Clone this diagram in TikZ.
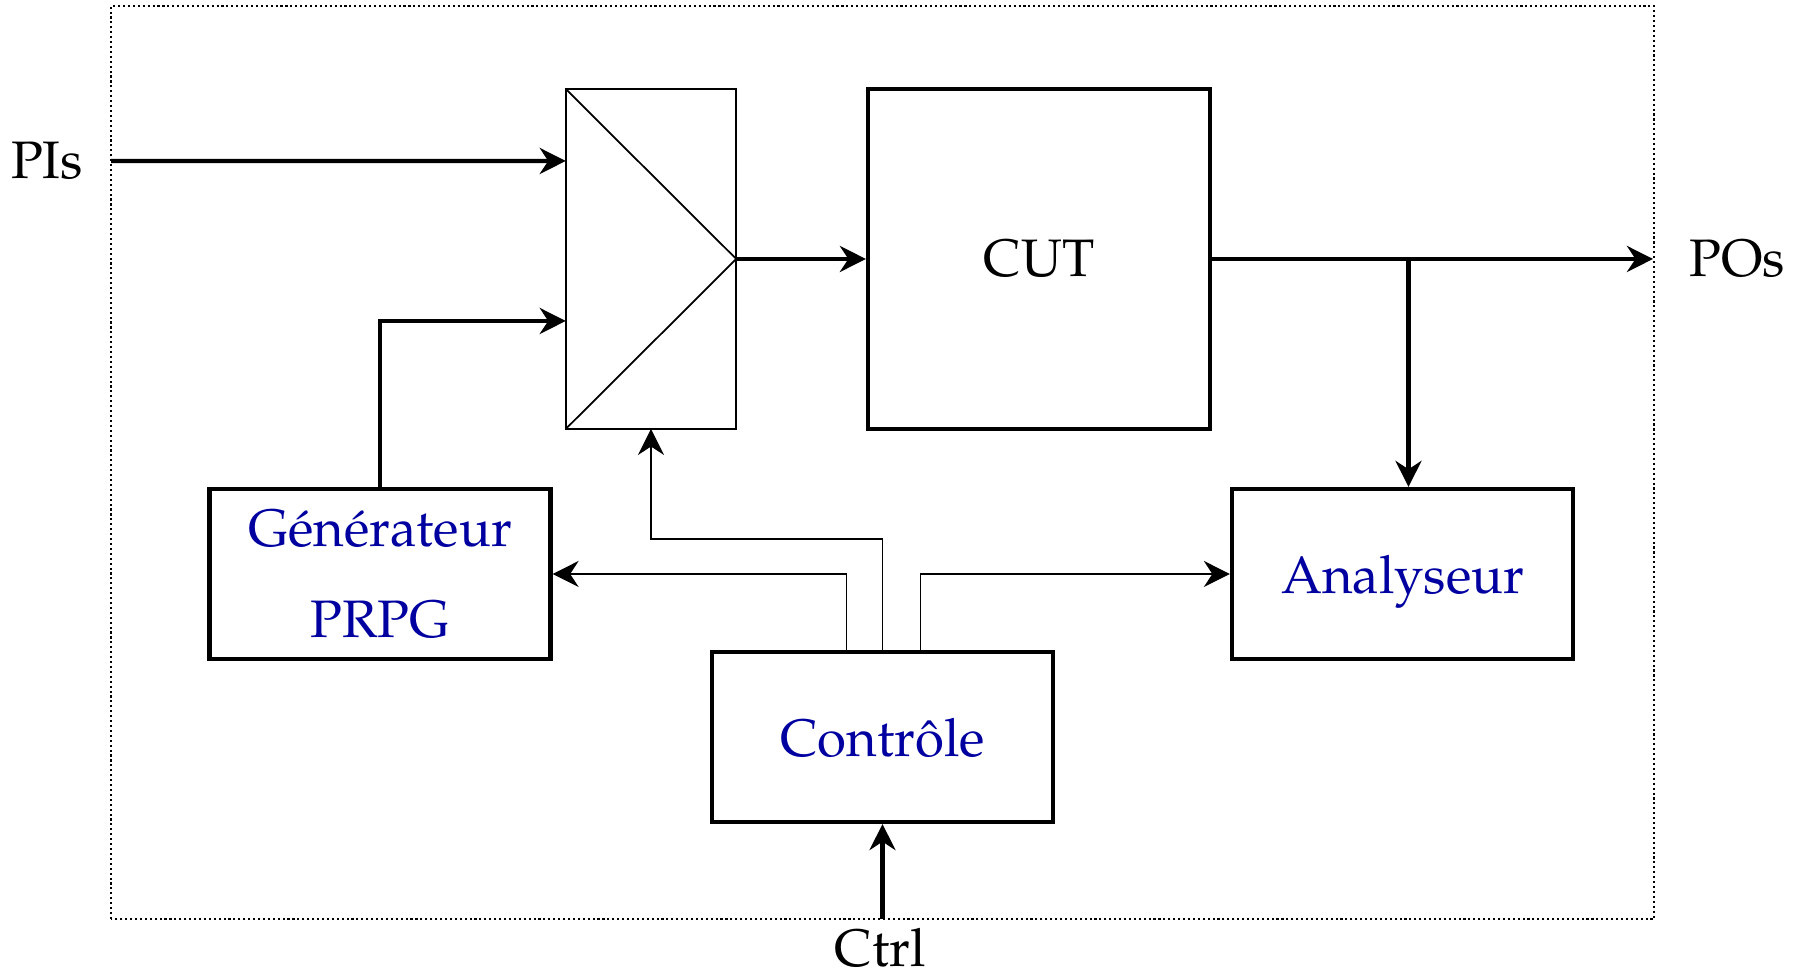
\documentclass[tikz,border=0pt]{standalone}
\usepackage[T1]{fontenc}
\usepackage{mathpazo}
\usepackage{tikz}
\usetikzlibrary{arrows.meta}
\definecolor{blocktext}{RGB}{0,0,160}
\tikzset{
    busarrow/.style={-{Stealth[length=2.6mm,width=2.6mm]}, line width=1.2pt},
    ctlarrow/.style={-{Stealth[length=2.6mm,width=2.6mm]}, line width=0.5pt},
    blockbox/.style={draw, line width=1.2pt, minimum width=3.41cm, minimum height=1.70cm, text=blocktext, text depth=0pt, align=center}
}

\begin{document}
\begin{tikzpicture}[font=\fontsize{15}{18}\selectfont]
    \useasboundingbox (0,0) rectangle (18,9.77);
    \draw[dash pattern=on 0.6pt off 0.8pt, line width=0.5pt] (1.11,0.58) rectangle (16.54,9.71);

    \node (pis) at (0.47,8.16) {PIs};
    \node (pos) at (17.37,7.18) {POs};
    \node (ctrl) at (8.80,0.29) {Ctrl};

    \node[draw, line width=0.5pt, outer sep=0pt, minimum width=1.705cm, minimum height=3.40cm] (mux) at (6.51,7.18) {};
    \node[draw, line width=1.2pt, minimum width=3.42cm, minimum height=3.40cm] (cut) at (10.39,7.18) {CUT};
    \node[blockbox] (gen) at (3.80,4.03) {G\'en\'erateur\\[8pt]PRPG};
    \node[blockbox] (ana) at (14.025,4.03) {Analyseur};
    \node[blockbox] (ctl) at (8.825,2.40) {Contr\^ole};

    \coordinate (piin) at (1.11,8.16);
    \coordinate (poout) at (16.53,7.18);
    \coordinate (ctrlin) at (8.825,0.58);
    \coordinate (tap) at ([xshift=0.6mm]ana.north |- cut.east);

    \draw[line width=0.5pt] (mux.north west) -- (mux.east) -- (mux.south west);

    \path [busarrow](piin) edge ([yshift=9.8mm]mux.west);
    \draw [busarrow](gen.north) |- ([yshift=-6.2mm]mux.west);
    \path [busarrow](mux.east) edge (cut.west);
    \path [busarrow](cut.east) edge (poout);
    \path [busarrow](tap) edge (tap |- ana.north);
    \path [busarrow](ctrlin) edge (ctl.south);

    \draw [ctlarrow]([xshift=-3.6mm]ctl.north) |- (gen.east);
    \draw [ctlarrow](ctl.north) -- ++(0,1.11) -| (mux.south);
    \draw [ctlarrow]([xshift=3.8mm]ctl.north) |- (ana.west);

\end{tikzpicture}
\end{document}
